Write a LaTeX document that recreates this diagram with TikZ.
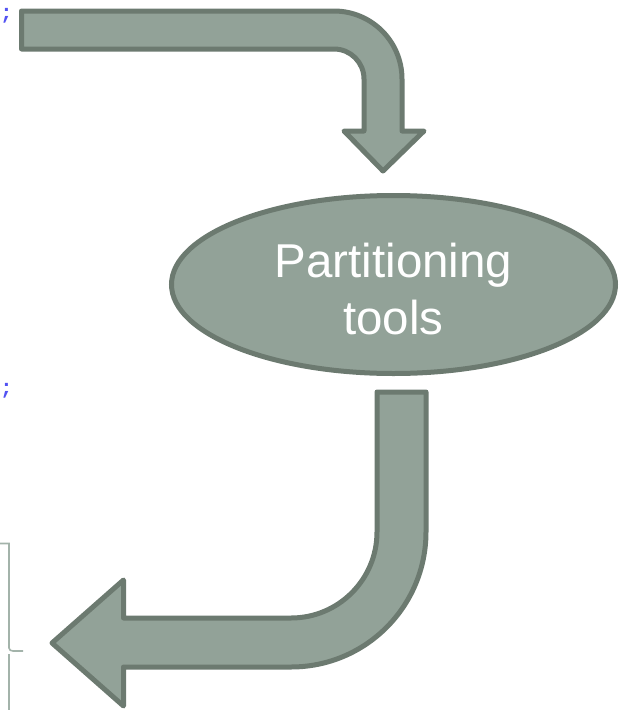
\documentclass[tikz,border=0pt]{standalone}
\usepackage{fontspec}
\setmainfont{Liberation Sans}
\newfontfamily\codefont{Liberation Mono}
\usetikzlibrary{shapes.geometric}

\definecolor{arrowfill}{HTML}{92A298}
\definecolor{arrowline}{HTML}{6C7A70}
\definecolor{bracecol}{HTML}{A3B3AA}
\definecolor{codeblue}{HTML}{5252F2}

\begin{document}
\begin{tikzpicture}[x=1pt,y=1pt,
  bentarrow/.style={fill=arrowfill, draw=arrowline, line width=5pt, line join=round},
  toolnode/.style={ellipse, fill=arrowfill, draw=arrowline, line width=5pt,
    minimum width=444pt, minimum height=178pt, inner sep=0pt},
  tooltext/.style={inner sep=0pt, text=white, align=center,
    font=\fontsize{47.5}{57}\selectfont},
  codemark/.style={text=codeblue, inner sep=0pt,
    font=\codefont\bfseries\fontsize{21}{21}\selectfont},
  bracket/.style={draw=bracecol, line width=1.6pt}]
\useasboundingbox (0,0) rectangle (621,-710);

% stray code punctuation at the left margin
\node[codemark, anchor=base west] (semiA) at (0,-19) {;};
\node[codemark, anchor=base west] (semiB) at (0,-394) {;};

% brace at the lower left
\draw[bracket] (0,-543.5) -- (9,-543.5) -- (9,-648) to[out=-90,in=180] (13,-651) -- (23,-651);
\draw[bracket] (9,-654) -- (9,-712);

% central ellipse and its label
\node[toolnode] (tools) at (393.5,-284.5) {};
\node[tooltext] (toolstext) at ([yshift=-5pt]tools.center) {Partitioning\\tools};

% arrow bending from the top into the ellipse
\draw[bentarrow] (21.5,-11) -- (334,-11) arc[start angle=90, end angle=0, radius=68]
  -- (402,-131) -- (424,-131) -- (383,-171) -- (344,-131) -- (364,-131)
  -- (364,-79) arc[start angle=0, end angle=90, radius=30] -- (21.5,-49) -- cycle;

% arrow leaving the ellipse and bending to the left
\draw[bentarrow] (377,-392) -- (426,-392) -- (426,-532)
  arc[start angle=0, end angle=-90, radius=135]
  -- (123.5,-667) -- (123.5,-706) -- (52,-643) -- (123.5,-580) -- (123.5,-618)
  -- (291,-618) arc[start angle=-90, end angle=0, radius=86] -- cycle;
\end{tikzpicture}
\end{document}
